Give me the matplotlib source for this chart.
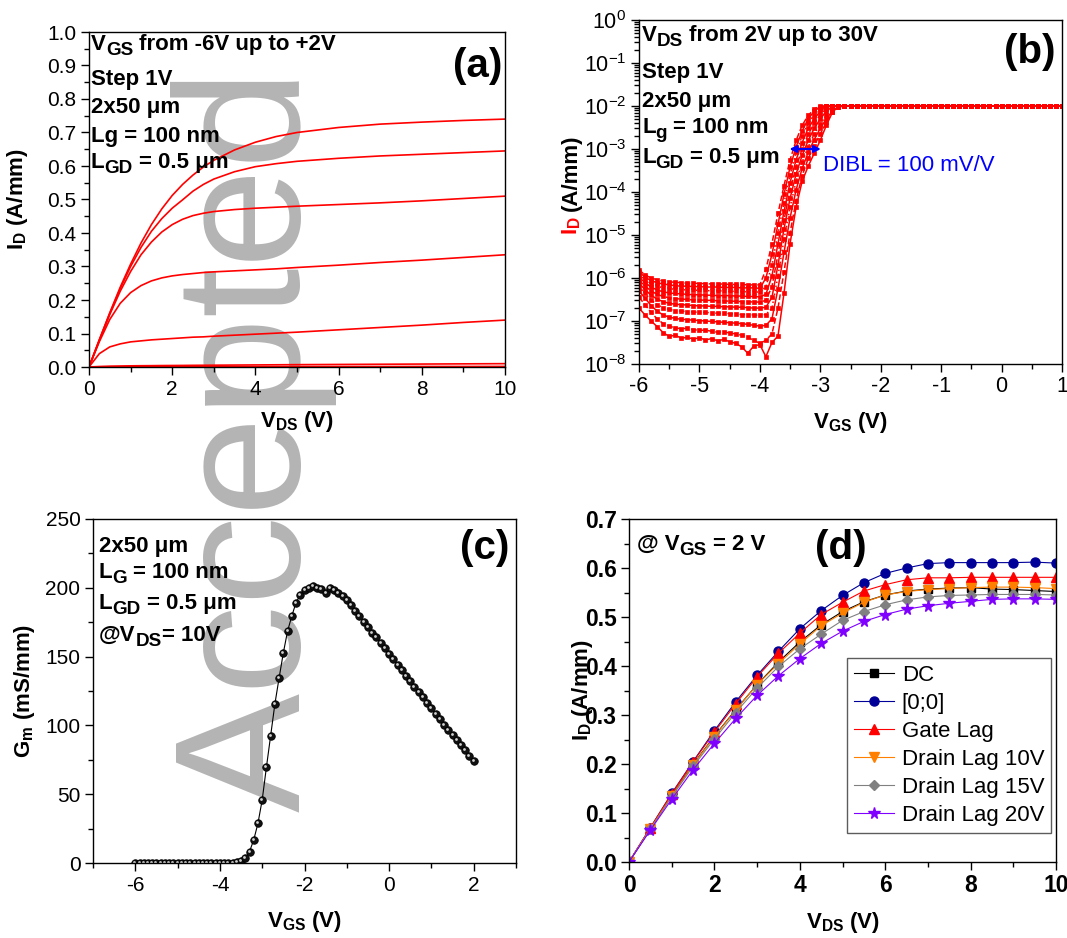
import numpy as np
import matplotlib
matplotlib.use('Agg')
import matplotlib.pyplot as plt
from matplotlib.ticker import MultipleLocator, LogLocator, NullFormatter
from matplotlib.transforms import offset_copy
from matplotlib.text import Annotation

plt.rcParams['font.family'] = ['Liberation Sans', 'DejaVu Sans']
plt.rcParams['mathtext.fontset'] = 'custom'
plt.rcParams['mathtext.rm'] = 'Liberation Sans'
plt.rcParams['mathtext.bf'] = 'Liberation Sans:bold'
plt.rcParams['mathtext.it'] = 'Liberation Sans:italic'
plt.rcParams['mathtext.default'] = 'regular'
plt.rcParams['axes.unicode_minus'] = False

# ---------------- (a) output characteristics ----------------
vds_a = [0, 0.25, 0.5, 0.75, 1, 1.25, 1.5, 1.75, 2, 2.25, 2.5, 2.75, 3, 3.5, 4, 4.5, 5, 6, 7, 8, 9, 10]
id_vgs_p2 = [0, 0.082, 0.162, 0.238, 0.307, 0.370, 0.425, 0.472, 0.512, 0.545, 0.573, 0.597, 0.617, 0.648, 0.671, 0.688, 0.700, 0.715, 0.725, 0.731, 0.736, 0.740]
id_vgs_p1 = [0, 0.081, 0.160, 0.234, 0.300, 0.357, 0.405, 0.443, 0.474, 0.499, 0.525, 0.545, 0.561, 0.583, 0.598, 0.607, 0.614, 0.623, 0.630, 0.635, 0.640, 0.645]
id_vgs_0 = [0, 0.080, 0.157, 0.226, 0.285, 0.335, 0.373, 0.403, 0.425, 0.441, 0.452, 0.459, 0.464, 0.470, 0.474, 0.477, 0.480, 0.485, 0.490, 0.496, 0.503, 0.510]
id_vgs_m1 = [0, 0.076, 0.142, 0.190, 0.222, 0.243, 0.257, 0.266, 0.272, 0.276, 0.279, 0.282, 0.284, 0.287, 0.290, 0.293, 0.297, 0.304, 0.312, 0.319, 0.327, 0.335]
id_vgs_m2 = [0, 0.040, 0.060, 0.069, 0.075, 0.078, 0.081, 0.083, 0.085, 0.087, 0.089, 0.090, 0.092, 0.095, 0.098, 0.101, 0.104, 0.111, 0.118, 0.125, 0.133, 0.140]
id_vgs_m3 = [0, 0.0015, 0.0025, 0.003, 0.0035, 0.0038, 0.004, 0.0043, 0.0045, 0.0047, 0.005, 0.0052, 0.0054, 0.0058, 0.0062, 0.0066, 0.007, 0.0076, 0.0082, 0.0088, 0.0094, 0.010]
id_vgs_m4 = [0, 0.0003, 0.0005, 0.0006, 0.0007, 0.0007, 0.0008, 0.0008, 0.0008, 0.0009, 0.0009, 0.0009, 0.001, 0.001, 0.001, 0.0011, 0.0011, 0.0012, 0.0012, 0.0013, 0.0013, 0.0014]
id_vgs_m5 = [0, 0.0002, 0.0003, 0.0003, 0.0004, 0.0004, 0.0004, 0.0005, 0.0005, 0.0005, 0.0005, 0.0005, 0.0006, 0.0006, 0.0006, 0.0006, 0.0007, 0.0007, 0.0007, 0.0008, 0.0008, 0.0008]
id_vgs_m6 = [0, 0.0001, 0.0002, 0.0002, 0.0002, 0.0002, 0.0003, 0.0003, 0.0003, 0.0003, 0.0003, 0.0003, 0.0003, 0.0004, 0.0004, 0.0004, 0.0004, 0.0004, 0.0005, 0.0005, 0.0005, 0.0006]

# ---------------- (b) transfer characteristics (log10 of ID) ----------------
vgs_b = np.round(np.arange(-6.0, 1.0001, 0.1), 1)
vds_b = [2, 5, 8, 11, 14, 17, 20, 23, 26, 30]
# off-state, VGS = -6.0 ... -4.0 (step 0.1)
off_b = [
    [-6.70, -6.86, -7.00, -7.13, -7.27, -7.36, -7.33, -7.40, -7.38, -7.42, -7.39, -7.44, -7.41, -7.46, -7.43, -7.48, -7.52, -7.60, -7.75, -7.58, -7.55],
    [-6.45, -6.62, -6.80, -6.95, -7.06, -7.12, -7.16, -7.18, -7.17, -7.20, -7.22, -7.21, -7.24, -7.26, -7.25, -7.28, -7.30, -7.33, -7.38, -7.45, -7.52],
    [-6.30, -6.47, -6.64, -6.77, -6.86, -6.91, -6.94, -6.96, -6.97, -6.98, -6.99, -7.00, -7.01, -7.02, -7.03, -7.04, -7.05, -7.06, -7.08, -7.10, -7.12],
    [-6.20, -6.36, -6.51, -6.62, -6.69, -6.73, -6.76, -6.77, -6.78, -6.79, -6.80, -6.80, -6.81, -6.82, -6.82, -6.83, -6.84, -6.85, -6.85, -6.86, -6.87],
    [-6.12, -6.27, -6.40, -6.49, -6.55, -6.59, -6.61, -6.62, -6.63, -6.64, -6.65, -6.65, -6.66, -6.66, -6.67, -6.67, -6.68, -6.68, -6.69, -6.70, -6.70],
    [-6.05, -6.19, -6.30, -6.38, -6.43, -6.46, -6.48, -6.49, -6.50, -6.51, -6.51, -6.52, -6.52, -6.53, -6.53, -6.54, -6.54, -6.55, -6.55, -6.56, -6.56],
    [-5.98, -6.11, -6.21, -6.28, -6.32, -6.35, -6.36, -6.37, -6.38, -6.39, -6.39, -6.40, -6.40, -6.41, -6.41, -6.41, -6.42, -6.42, -6.43, -6.43, -6.44],
    [-5.92, -6.04, -6.13, -6.19, -6.23, -6.25, -6.26, -6.27, -6.28, -6.28, -6.29, -6.29, -6.30, -6.30, -6.30, -6.31, -6.31, -6.32, -6.32, -6.32, -6.33],
    [-5.86, -5.98, -6.06, -6.11, -6.14, -6.16, -6.18, -6.19, -6.19, -6.20, -6.20, -6.21, -6.21, -6.21, -6.22, -6.22, -6.22, -6.23, -6.23, -6.23, -6.24],
    [-5.81, -5.93, -6.00, -6.04, -6.07, -6.09, -6.10, -6.11, -6.12, -6.12, -6.13, -6.13, -6.14, -6.14, -6.14, -6.15, -6.15, -6.15, -6.16, -6.16, -6.16],
]
# turn-on, VGS = -3.9 ... -2.6 (step 0.1)
on_b = [
    [-7.83, -7.50, -7.35, -6.35, -5.20, -4.35, -3.75, -3.40, -3.10, -2.80, -2.45, -2.15, -2.00, -2.00],
    [-7.45, -7.30, -6.70, -5.85, -4.95, -4.20, -3.62, -3.22, -2.92, -2.65, -2.38, -2.15, -2.02, -2.00],
    [-7.10, -6.95, -6.25, -5.40, -4.60, -3.95, -3.45, -3.08, -2.78, -2.52, -2.30, -2.12, -2.02, -2.00],
    [-6.85, -6.70, -5.95, -5.10, -4.35, -3.75, -3.30, -2.95, -2.65, -2.42, -2.22, -2.07, -2.00, -2.00],
    [-6.68, -6.45, -5.70, -4.85, -4.15, -3.58, -3.15, -2.80, -2.52, -2.30, -2.12, -2.02, -2.00, -2.00],
    [-6.52, -6.20, -5.45, -4.65, -3.95, -3.42, -3.00, -2.66, -2.40, -2.20, -2.06, -2.00, -2.00, -2.00],
    [-6.38, -5.95, -5.20, -4.45, -3.78, -3.25, -2.85, -2.52, -2.30, -2.12, -2.02, -2.00, -2.00, -2.00],
    [-6.20, -5.70, -4.95, -4.25, -3.60, -3.08, -2.70, -2.40, -2.20, -2.06, -2.00, -2.00, -2.00, -2.00],
    [-6.00, -5.45, -4.75, -4.05, -3.42, -2.95, -2.58, -2.30, -2.12, -2.02, -2.00, -2.00, -2.00, -2.00],
    [-5.80, -5.20, -4.50, -3.85, -3.25, -2.80, -2.45, -2.22, -2.07, -2.00, -2.00, -2.00, -2.00, -2.00],
]
log_compliance = -2.0   # 10 mA/mm compliance, VGS >= -2.5

# ---------------- (c) transconductance ----------------
vgs_c = np.round(np.arange(-6.0, 2.0001, 0.1), 1)
gm_c = [0, 0, 0, 0, 0, 0, 0, 0, 0, 0, 0, 0, 0, 0, 0, 0, 0, 0, 0, 0, 0, 0, 0.1, 0.2, 0.5, 1.2,
        3.5, 8.3, 16.8, 28.9, 45.9, 69.7, 92.6, 115.6, 134.6, 152.8, 168.6, 179.5, 189.3, 194.8,
        198.3, 200.2, 201.4, 200.0, 198.8, 196.5, 199.5, 198.5, 196.5, 194.0,
        191, 187.5, 183.5, 179.5, 175.5, 171.5, 167.5, 164, 160, 156, 152, 148, 144, 140, 136, 132,
        128, 124.5, 120.5, 116.5, 112.5, 108.5, 104.5, 100.5, 97, 93, 89.5, 85.5, 82, 78, 74]

# ---------------- (d) pulsed IV ----------------
vds_d = np.arange(0, 10.01, 0.5)
id_dc = [0, 0.068, 0.136, 0.199, 0.257, 0.311, 0.362, 0.408, 0.449, 0.484, 0.511, 0.531, 0.545, 0.553, 0.557, 0.559, 0.560, 0.557, 0.556, 0.554, 0.552]
id_00 = [0, 0.070, 0.140, 0.205, 0.268, 0.327, 0.381, 0.430, 0.476, 0.513, 0.544, 0.570, 0.589, 0.600, 0.609, 0.611, 0.611, 0.611, 0.611, 0.612, 0.610]
id_gate = [0, 0.070, 0.139, 0.204, 0.265, 0.323, 0.378, 0.426, 0.467, 0.505, 0.530, 0.553, 0.566, 0.576, 0.580, 0.580, 0.581, 0.581, 0.581, 0.581, 0.581]
id_drain10 = [0, 0.068, 0.135, 0.198, 0.256, 0.310, 0.362, 0.405, 0.445, 0.482, 0.508, 0.530, 0.545, 0.552, 0.556, 0.558, 0.560, 0.561, 0.561, 0.560, 0.558]
id_drain15 = [0, 0.067, 0.133, 0.195, 0.251, 0.305, 0.355, 0.399, 0.435, 0.465, 0.493, 0.511, 0.525, 0.535, 0.541, 0.544, 0.545, 0.546, 0.546, 0.546, 0.545]
id_drain20 = [0, 0.065, 0.128, 0.188, 0.242, 0.293, 0.340, 0.380, 0.415, 0.446, 0.471, 0.491, 0.505, 0.516, 0.523, 0.528, 0.532, 0.536, 0.537, 0.537, 0.536]
labels_d = ['DC', '[0;0]', 'Gate Lag', 'Drain Lag 10V', 'Drain Lag 15V', 'Drain Lag 20V']

W, H = 1067, 938
fig = plt.figure(figsize=(W / 100, H / 100), dpi=100)
FS = 16   # annotation font size


def add_ax(l, t, r, b):
    return fig.add_axes([l / W, 1 - b / H, (r - l) / W, (b - t) / H], facecolor='none')


def ptext(x, y, s, **kw):
    return fig.text(x / W, 1 - y / H, s, **kw)


def rich(x, y, parts, size=FS):
    """Bold text line at pixel (x, baseline y); parts = [(text, is_subscript), ...]."""
    first, prev_sub = parts[0]
    prev = ptext(x, y, first, fontsize=size, fontweight='bold', va='baseline')
    shift = 0.2 * size
    for s, sub in parts[1:]:
        gap = 0.0
        if s.startswith(' '):
            gap = 0.28 * size
            s = s.lstrip()
        dy = 0.0
        if sub and not prev_sub:
            dy = -shift
        elif prev_sub and not sub:
            dy = shift
        t = Annotation(s, xy=(1, 0), xycoords=prev, xytext=(gap, dy), textcoords='offset points',
                       ha='left', va='bottom', fontsize=size * (0.85 if sub else 1.0),
                       fontweight='bold', annotation_clip=False)
        fig.add_artist(t)
        prev, prev_sub = t, sub


def style(ax, size=15):
    ax.tick_params(which='both', direction='out', top=False, right=False, labelsize=size, pad=3)
    ax.tick_params(which='major', length=6, width=1)
    ax.tick_params(which='minor', length=3.5, width=1)
    for s in ax.spines.values():
        s.set_linewidth(1.0)


# watermark behind everything, scaled so it runs from y=812 up to y=68
wm = fig.text(300 / W, 1 - 812 / H, 'Accepted', rotation=90, rotation_mode='anchor',
              ha='left', va='baseline', fontsize=130, color='#b4b4b4', zorder=-10)
fig.canvas.draw()
wm_len = wm.get_window_extent().height
wm.set_fontsize(130 * 744 / wm_len)

# ---------- (a) ----------
ax = add_ax(89, 32, 505, 367)
for curve in [id_vgs_p2, id_vgs_p1, id_vgs_0, id_vgs_m1, id_vgs_m2, id_vgs_m3, id_vgs_m4, id_vgs_m5, id_vgs_m6]:
    ax.plot(vds_a, curve, color='red', lw=1.2)
ax.set_xlim(0, 10)
ax.set_ylim(0, 1.0)
ax.xaxis.set_major_locator(MultipleLocator(2))
ax.xaxis.set_minor_locator(MultipleLocator(1))
ax.yaxis.set_major_locator(MultipleLocator(0.1))
ax.yaxis.set_minor_locator(MultipleLocator(0.05))
style(ax)
ax.set_xlabel(r'$\mathbf{V_{DS}}$ (V)', fontsize=16, fontweight='bold')
ax.set_ylabel(r'$\mathbf{I_D}$ (A/mm)', fontsize=16, fontweight='bold')
ax.xaxis.set_label_coords(0.5, -0.164)
ax.xaxis.label.set_va('center')
ax.yaxis.set_label_coords(-0.171, 0.5)
ax.yaxis.label.set_va('center')
rich(91, 50, [('V', False), ('GS', True), (' from -6V up to +2V', False)])
ptext(91, 85, 'Step 1V', fontsize=FS, fontweight='bold')
ptext(91, 113, '2x50 μm', fontsize=FS, fontweight='bold')
ptext(91, 142, 'Lg = 100 nm', fontsize=FS, fontweight='bold')
rich(91, 168, [('L', False), ('GD', True), (' = 0.5 μm', False)])
ptext(478, 66, '(a)', fontsize=29, fontweight='bold', ha='center', va='center')

# ---------- (b) ----------
ax = add_ax(639, 20, 1062, 364)
styles_b = ['-', '--', '-', ':']
n_sat = int(np.sum(vgs_b >= -2.5))
for i, (off, on) in enumerate(zip(off_b, on_b)):
    logs = np.r_[off, on, np.full(n_sat, log_compliance)]
    ax.plot(vgs_b, 10 ** logs, color='red', lw=1.1, ls=styles_b[i % 4],
            marker='s', ms=3.4, mec='red', mfc='red', mew=0.5)
ax.set_yscale('log')
ax.set_xlim(-6, 1)
ax.set_ylim(1e-8, 1)
ax.xaxis.set_major_locator(MultipleLocator(1))
ax.xaxis.set_minor_locator(MultipleLocator(0.5))
ax.yaxis.set_major_locator(LogLocator(base=10, numticks=20))
ax.yaxis.set_minor_locator(LogLocator(base=10, subs=np.arange(2, 10), numticks=20))
ax.yaxis.set_minor_formatter(NullFormatter())
style(ax, 15.5)
ax.set_xlabel(r'$\mathbf{V_{GS}}$ (V)', fontsize=16, fontweight='bold')
ax.xaxis.set_label_coords(0.5, -0.169)
ax.xaxis.label.set_va('center')
ax.text(-0.16, 0.445, '(A/mm)', transform=ax.transAxes, rotation=90,
        ha='center', va='bottom', fontsize=16, fontweight='bold')
ax.text(-0.16, 0.43, r'$\mathbf{I_D}$', transform=ax.transAxes, rotation=90,
        ha='center', va='top', fontsize=16, fontweight='bold', color='red')
ax.annotate('', xy=(-2.99, 1e-3), xytext=(-3.51, 1e-3),
            arrowprops=dict(arrowstyle='<|-|>', color='blue', lw=1.6, mutation_scale=10,
                            shrinkA=0, shrinkB=0))
ax.text(-2.95, 10 ** -3.38, 'DIBL = 100 mV/V', color='blue', fontsize=16, va='center', ha='left')
rich(642, 41, [('V', False), ('DS', True), (' from 2V up to 30V', False)])
ptext(642, 78, 'Step 1V', fontsize=FS, fontweight='bold')
ptext(642, 107, '2x50 μm', fontsize=FS, fontweight='bold')
rich(642, 133, [('L', False), ('g', True), (' = 100 nm', False)])
rich(642, 163, [('L', False), ('GD', True), (' = 0.5 μm', False)])
ptext(1030, 52, '(b)', fontsize=29, fontweight='bold', ha='center', va='center')

# ---------- (c) ----------
ax = add_ax(93, 519, 516, 863)
ax.plot(vgs_c, gm_c, color='black', lw=0.8, marker='o', ms=5.4, mfc='#111111', mec='#000000', mew=0.6)
hl = offset_copy(ax.transData, fig=fig, x=-1.0, y=1.0, units='dots')
ax.plot(vgs_c, gm_c, ls='none', marker='o', ms=2.0, mfc='#d0d0d0', mec='none', transform=hl)
ax.set_xlim(-7, 3)
ax.set_ylim(0, 250)
ax.xaxis.set_major_locator(MultipleLocator(2))
ax.xaxis.set_minor_locator(MultipleLocator(1))
ax.yaxis.set_major_locator(MultipleLocator(50))
ax.yaxis.set_minor_locator(MultipleLocator(25))
style(ax)
ax.set_xticks([-6, -4, -2, 0, 2])
ax.set_xlabel(r'$\mathbf{V_{GS}}$ (V)', fontsize=16, fontweight='bold')
ax.set_ylabel(r'$\mathbf{G_m}$ (mS/mm)', fontsize=16, fontweight='bold')
ax.xaxis.set_label_coords(0.5, -0.169)
ax.xaxis.label.set_va('center')
ax.yaxis.set_label_coords(-0.163, 0.5)
ax.yaxis.label.set_va('center')
ptext(99, 552, '2x50 μm', fontsize=FS, fontweight='bold')
rich(99, 578, [('L', False), ('G', True), (' = 100 nm', False)])
rich(99, 609, [('L', False), ('GD', True), (' = 0.5 μm', False)])
rich(99, 641, [('@V', False), ('DS', True), ('= 10V', False)])
ptext(485, 548, '(c)', fontsize=29, fontweight='bold', ha='center', va='center')

# ---------- (d) ----------
ax = add_ax(629, 519, 1056, 862)
series_d = [id_dc, id_00, id_gate, id_drain10, id_drain15, id_drain20]
colors_d = ['black', '#000099', '#ff0000', '#ff8000', '#808080', '#8000ff']
markers_d = ['s', 'o', '^', 'v', 'D', '*']
sizes_d = [6, 6.5, 7.5, 7.5, 5.5, 8.5]
for y, c, m, s, lab in zip(series_d, colors_d, markers_d, sizes_d, labels_d):
    ax.plot(vds_d, y, color=c, lw=0.8, marker=m, ms=s, mec=c, mfc=c, label=lab)
ax.set_xlim(0, 10)
ax.set_ylim(0, 0.7)
ax.xaxis.set_major_locator(MultipleLocator(2))
ax.xaxis.set_minor_locator(MultipleLocator(1))
ax.yaxis.set_major_locator(MultipleLocator(0.1))
ax.yaxis.set_minor_locator(MultipleLocator(0.05))
style(ax, 16.5)
for lab in ax.get_xticklabels() + ax.get_yticklabels():
    lab.set_fontweight('bold')
ax.set_xlabel(r'$\mathbf{V_{DS}}$ (V)', fontsize=16, fontweight='bold')
ax.set_ylabel(r'$\mathbf{I_D}$ (A/mm)', fontsize=16, fontweight='bold')
ax.xaxis.set_label_coords(0.5, -0.175)
ax.xaxis.label.set_va('center')
ax.yaxis.set_label_coords(-0.11, 0.5)
ax.yaxis.label.set_va('center')
leg = ax.legend(loc='upper left', bbox_to_anchor=(0.511, 0.595), fontsize=16, frameon=True,
                fancybox=False, edgecolor='#333333', borderpad=0.3, labelspacing=0.32,
                handlelength=1.8, handletextpad=0.35, borderaxespad=0)
leg.get_frame().set_linewidth(1.0)
rich(637, 550, [('@ V', False), ('GS', True), (' = 2 V', False)])
ptext(841, 548, '(d)', fontsize=29, fontweight='bold', ha='center', va='center')

fig.savefig('out.png', dpi=100)
